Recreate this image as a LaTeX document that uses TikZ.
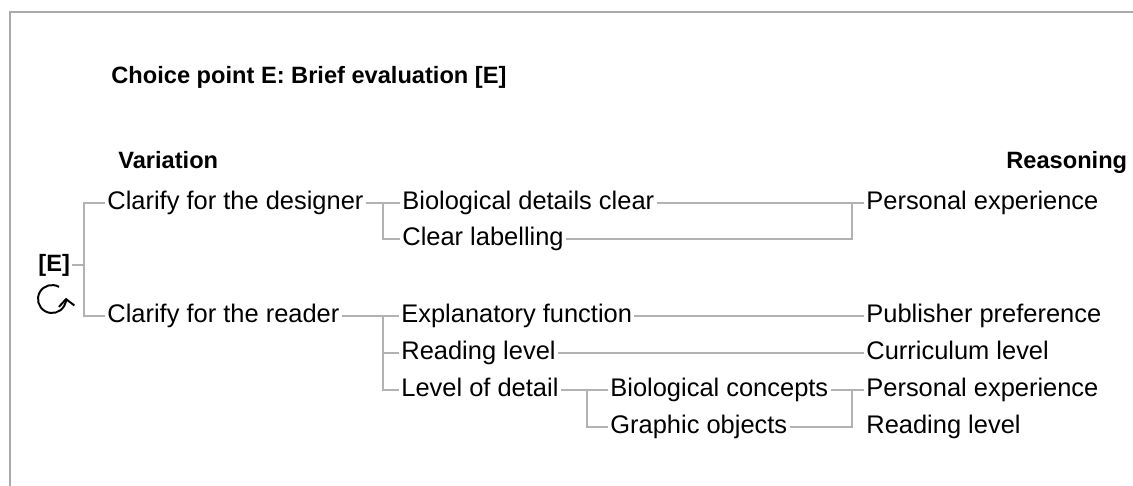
\documentclass[tikz,border=0pt]{standalone}
\usepackage{fontspec}
\setmainfont{Liberation Sans}
\usetikzlibrary{arrows.meta,positioning}
\definecolor{LineGrey}{RGB}{178,178,178}
\definecolor{FrameGrey}{RGB}{170,170,170}
\tikzset{
  entry/.style={anchor=west,inner sep=1.5pt,text height=13.6pt,
    text depth=4.2pt,font=\fontsize{18.1}{20}\selectfont},
  heading/.style={anchor=west,inner sep=1.5pt,text height=12.6pt,
    text depth=3.9pt,font=\fontsize{16.8}{19}\selectfont\bfseries},
  link/.style={draw=LineGrey,line width=0.8pt},
  frameline/.style={draw=FrameGrey,line width=1.3pt}
}

\begin{document}
\begin{tikzpicture}[x=0.025cm,y=0.025cm]
\useasboundingbox (0,0) rectangle (1133,-486);

% Frame
\draw[frameline] (10,-486) -- (10,-12) -- (1133,-12);

% Headings
\node[heading] (title) at (109,-77) {Choice point E: Brief evaluation [E]};
\node[heading] (variation) at (116,-162) {Variation};
\node[heading] (reasoning) at (1004,-162) {Reasoning};

% Root
\node[heading] (root) at (36,-265) {[E]};
\draw[-{Straight Barb[length=5pt,width=11pt]},line width=1.4pt]
  (59,-286.9) arc[start angle=60,end angle=365,radius=14];

% Variations
\node[entry] (cd) at (105,-203) {Clarify for the designer};
\node[entry] (cr) at (105,-316) {Clarify for the reader};
\node[entry] (bd) at (400,-203) {Biological details clear};
\node[entry] (cl) at (400,-239) {Clear labelling};
\node[entry] (ef) at (399,-316) {Explanatory function};
\node[entry] (rl) at (399,-353) {Reading level};
\node[entry] (ld) at (399,-390) {Level of detail};
\node[entry] (bc) at (608,-390) {Biological concepts};
\node[entry] (go) at (608,-427) {Graphic objects};

% Reasoning
\foreach \n/\y/\t in {pe1/203/Personal experience,pp/316/Publisher preference,
  cu/353/Curriculum level,pe2/390/Personal experience,rd/427/Reading level}{
  \node[entry] (\n) at (864,-\y) {\t};
}

% Junctions
\coordinate (jE) at (84,-265);
\coordinate (jd) at (383,-203);
\coordinate (jr) at (383,-316);
\coordinate (jl) at (587,-390);
\coordinate (jp) at (852,-203);
\coordinate (jc) at (852,-390);

% Links
\draw[link] (root) -- (jE) |- (cd);
\draw[link] (jE) |- (cr);
\draw[link] (cd) -- (bd);
\draw[link] (jd) |- (cl);
\draw[link] (bd) -- (pe1);
\draw[link] (cl) -| (jp);
\draw[link] (cr) -- (ef);
\draw[link] (jr) |- (rl);
\draw[link] (jr) |- (ld);
\draw[link] (ef) -- (pp);
\draw[link] (rl) -- (cu);
\draw[link] (ld) -- (bc);
\draw[link] (jl) |- (go);
\draw[link] (bc) -- (pe2);
\draw[link] (go) -| (jc);

\end{tikzpicture}
\end{document}
